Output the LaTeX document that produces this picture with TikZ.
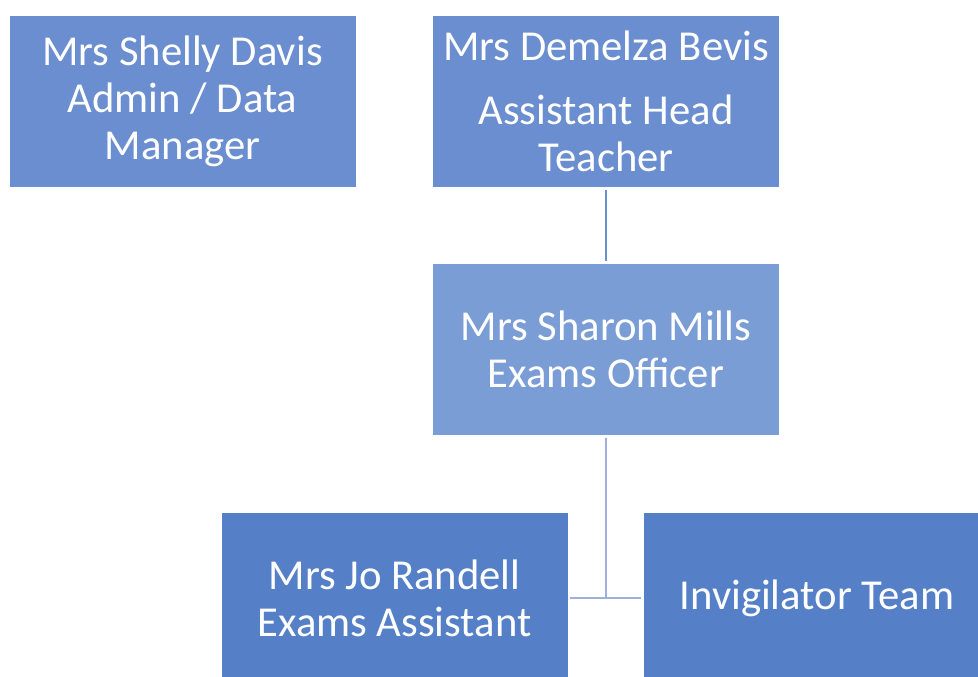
\documentclass[tikz,border=0pt]{standalone}
\usepackage{fontspec}
\setmainfont{Carlito}
\usetikzlibrary{positioning}

\definecolor{rolemid}{HTML}{6A8ECF}
\definecolor{rolelight}{HTML}{7B9DD6}
\definecolor{roledark}{HTML}{5580C8}
\definecolor{linkpale}{HTML}{9DB0DC}

\begin{document}
\begin{tikzpicture}[
  x=0.75pt, y=-0.75pt,
  role/.style={fill=#1, text=white, align=center, inner sep=0pt,
               minimum width=259.5pt, minimum height=128.25pt,
               font=\fontsize{32}{35}\selectfont},
  link/.style={line width=1.5pt, shorten <=2pt, shorten >=2pt}
]
\useasboundingbox (0,0) rectangle (978,676);
\clip (0,0) rectangle (978,676);

\node[role=rolemid]   (davis)  at (182.5,101.5) {Mrs Shelly Davis\\Admin / Data\\Manager};
\node[role=rolemid]   (bevis)  at (606,101.5)   {Mrs Demelza Bevis\\[13pt]Assistant Head\\Teacher};
\node[role=rolelight] (mills)  at (606,349.5)   {Mrs Sharon Mills\\Exams Officer};
\node[role=roledark]  (randell) at (394.5,598)  {Mrs Jo Randell\\Exams Assistant};
\node[role=roledark]  (invig)  at (817,598)     {Invigilator Team};

\coordinate (split) at (mills.south |- randell.east);

\draw[link, rolemid]  (bevis) -- (mills);
\draw[link, linkpale, shorten >=0pt] (mills.south) -- (split);
\draw[link, linkpale] (randell.east) -- (invig.west);
\end{tikzpicture}
\end{document}
